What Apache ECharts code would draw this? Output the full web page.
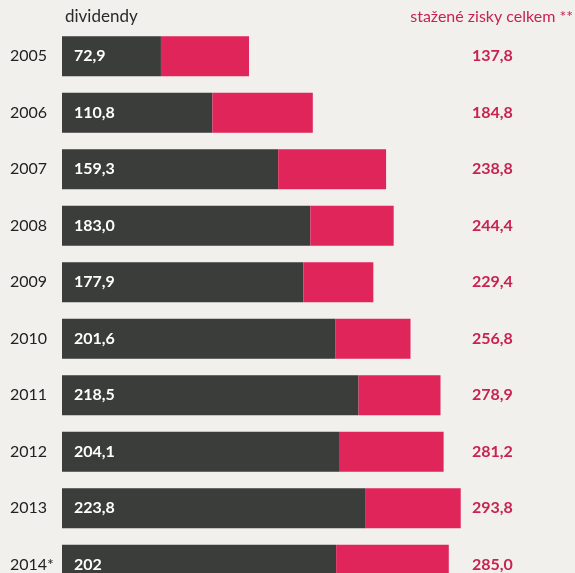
<!DOCTYPE html>
<html>
<head>
<meta charset="utf-8">
<script src="https://cdn.jsdelivr.net/npm/echarts@6/dist/echarts.min.js"></script>
<style>
  html, body { margin: 0; padding: 0; background: #f1f0ed; }
  #main { width: 575px; height: 573px; }
</style>
</head>
<body>
<div id="main"></div>
<script>
// years, dividends and total withdrawn profits (bn CZK)
const years = ["2005", "2006", "2007", "2008", "2009", "2010", "2011", "2012", "2013", "2014*"];
const dividends = [72.9, 110.8, 159.3, 183.0, 177.9, 201.6, 218.5, 204.1, 223.8, 202];
const dividendLabels = ["72,9", "110,8", "159,3", "183,0", "177,9", "201,6", "218,5", "204,1", "223,8", "202"];
const totals = [137.8, 184.8, 238.8, 244.4, 229.4, 256.8, 278.9, 281.2, 293.8, 285.0];

const rest = totals.map((t, i) => Math.round((t - dividends[i]) * 10) / 10);
const fmt = (v) => v.toFixed(1).replace(".", ",");

const FONT = "Lato";

let chart = echarts.init(document.getElementById("main"));
chart.setOption({
  backgroundColor: "#f1f0ed",
  animation: false,
  textStyle: { fontFamily: FONT },
  graphic: [
    {
      type: "text", left: 65, top: 8,
      style: { text: "dividendy", fill: "#2a2a2a", font: "17px " + FONT }
    },
    {
      type: "text", right: 2, top: 9,
      style: { text: "stažené zisky celkem **", fill: "#c8224f", font: "16px " + FONT }
    }
  ],
  // last row runs past the bottom edge, as in the print
  grid: { left: 62, width: 513, top: 28, height: 565, outerBoundsMode: "none", containLabel: false },
  xAxis: {
    type: "value", min: 0, max: 378, show: false
  },
  yAxis: [
    {
      type: "category", data: years, inverse: true,
      axisLine: { show: false }, axisTick: { show: false },
      axisLabel: { align: "left", margin: 52, color: "#222", fontSize: 16, fontFamily: FONT }
    },
    {
      type: "category", data: totals.map(fmt), inverse: true, position: "right", offset: -103,
      axisLine: { show: false }, axisTick: { show: false },
      axisLabel: { align: "left", margin: 0, color: "#c8224f", fontSize: 16, fontWeight: "bold", fontFamily: FONT }
    }
  ],
  series: [
    {
      name: "dividendy", type: "bar", stack: "x", barWidth: 40,
      data: dividends,
      itemStyle: { color: "#3a3d3a" },
      label: {
        show: true, position: "insideLeft", distance: 12,
        color: "#fff", fontSize: 16, fontWeight: "bold", fontFamily: FONT,
        formatter: (p) => dividendLabels[p.dataIndex]
      }
    },
    {
      name: "zbytek", type: "bar", stack: "x", barWidth: 40,
      data: rest,
      itemStyle: { color: "#e0255a" }
    }
  ]
});
</script>
</body>
</html>
